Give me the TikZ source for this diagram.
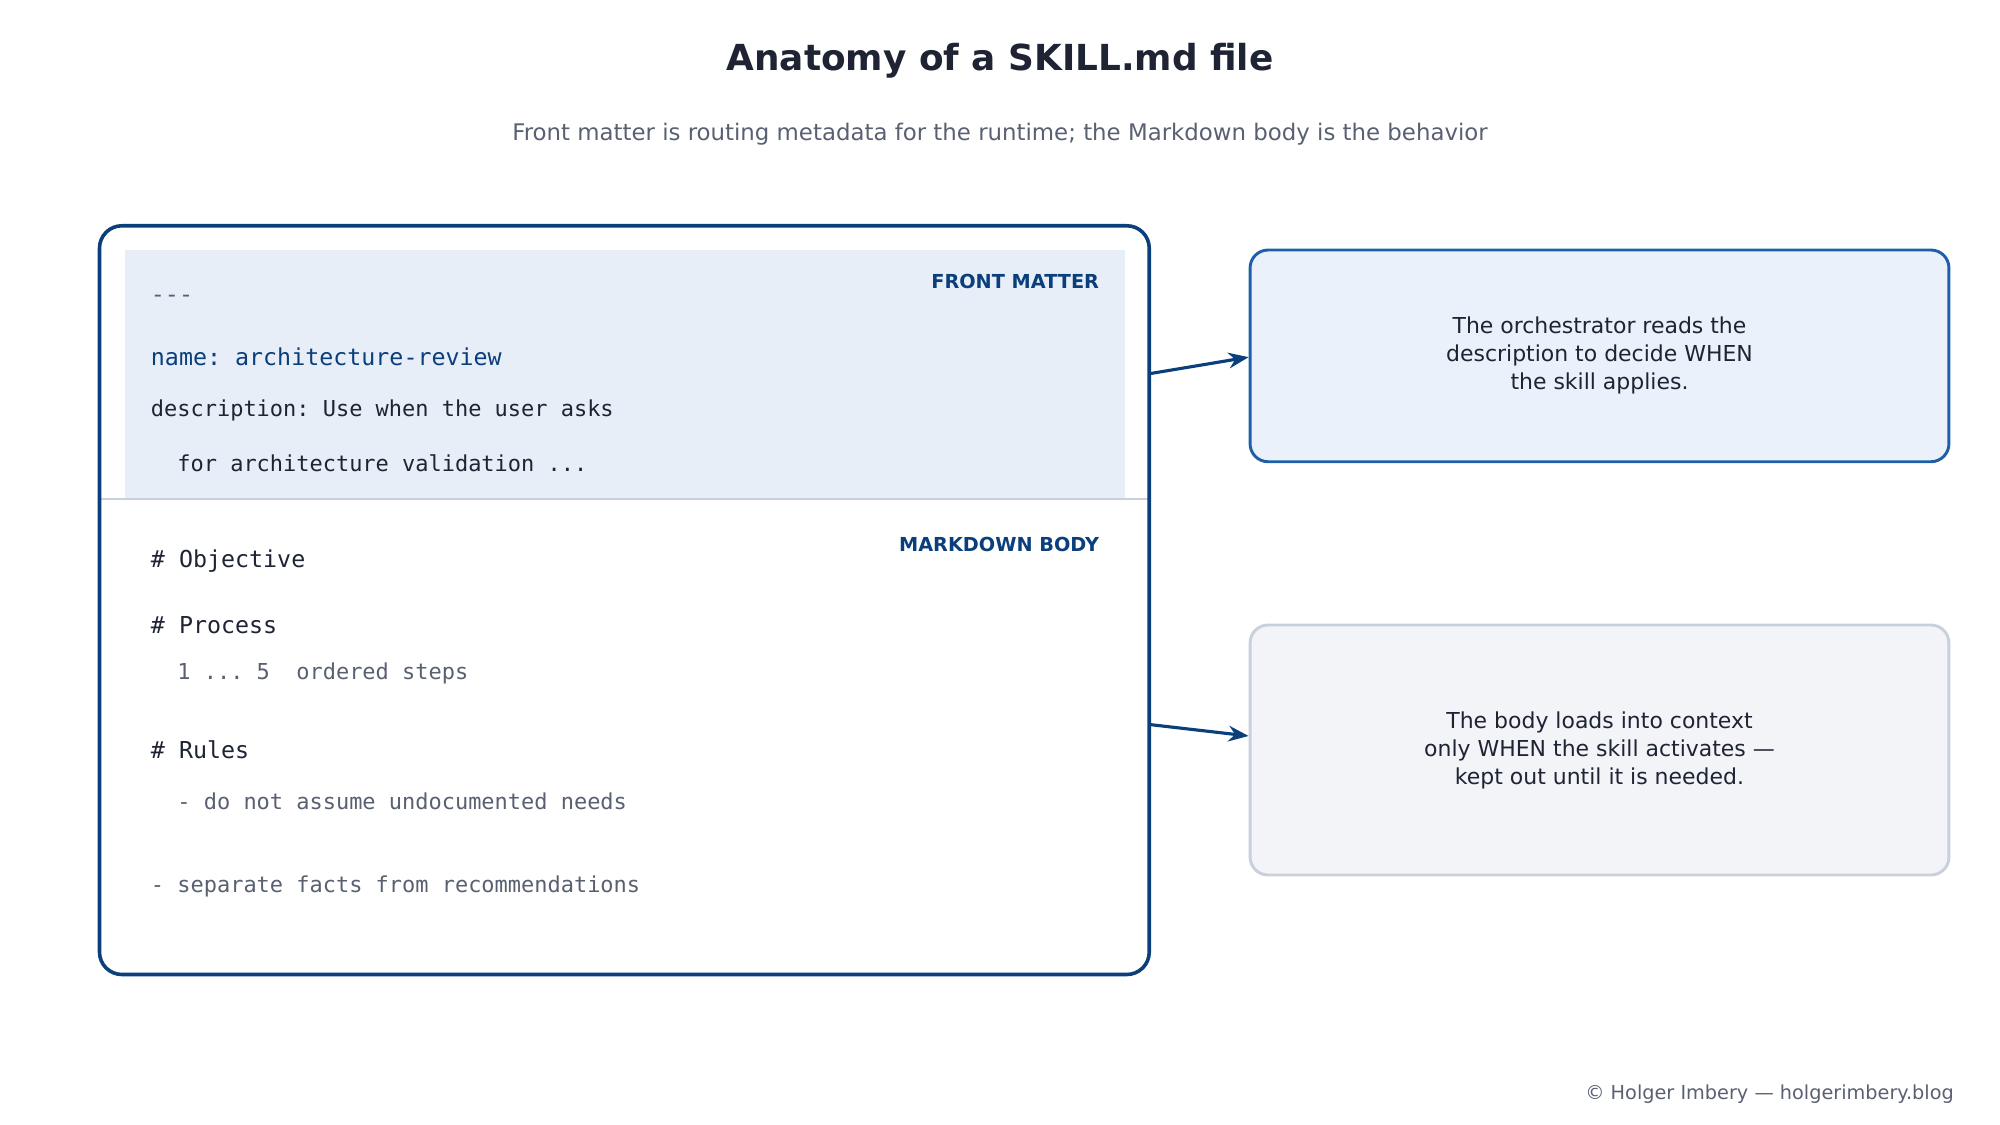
\documentclass[tikz,border=0pt]{standalone}
\usepackage{fontspec}
\setmainfont{DejaVu Sans}
\setmonofont{DejaVu Sans Mono}
\usetikzlibrary{positioning,arrows.meta}
\definecolor{navy}{HTML}{0B3F7C}
\definecolor{ink}{HTML}{1E2433}
\definecolor{muted}{HTML}{596072}
\definecolor{paleblue}{HTML}{E8EEF8}
\definecolor{boxblue}{HTML}{1F5FA8}
\definecolor{boxfill}{HTML}{EBF1FA}
\definecolor{greyfill}{HTML}{F3F4F8}
\definecolor{greyline}{HTML}{C8D0DD}
\tikzset{
    code/.style={anchor=west, inner sep=0pt, font=\ttfamily\fontsize{10.4}{12}\selectfont, text=ink},
    subcode/.style={code, font=\ttfamily\fontsize{9.8}{12}\selectfont, text=muted},
    tag/.style={anchor=east, inner sep=0pt, font=\bfseries\fontsize{8.6}{10}\selectfont, text=navy},
    note/.style={align=center, font=\fontsize{9.8}{12.5}\selectfont, text=ink},
    link/.style={-{Stealth[length=9pt,width=7pt]}, navy, line width=1.4pt}
}
\begin{document}
\begin{tikzpicture}[x=0.02cm, y=-0.02cm]
    \useasboundingbox (0,0) rectangle (1568,882);
    % Title
    \node[font=\bfseries\fontsize{16}{19}\selectfont, text=ink] (title) at (784,48) {Anatomy of a SKILL.md file};
    \node[font=\fontsize{10.2}{12}\selectfont, text=muted] (subtitle) at (784,105)
        {Front matter is routing metadata for the runtime; the Markdown body is the behavior};

    % Skill file
    \fill[paleblue] (98,196) rectangle (882,391);
    \draw[greyline, line width=1pt] (78,391) -- (901,391);
    \draw[navy, line width=1.6pt, rounded corners=10pt] (78,177) rectangle (901,764);
    \node[tag] (fmtag) at (862,221) {FRONT MATTER};
    \node[tag] (mdtag) at (862,427) {MARKDOWN BODY};
    \node[code, text=muted] (dashes) at (118,234) {---};
    \node[code, text=navy] (name) at (118,280) {name: architecture-review};
    \node[code, font=\ttfamily\fontsize{9.8}{12}\selectfont] (desc) at (118,322) {description: Use when the user asks};
    \node[code, font=\ttfamily\fontsize{9.8}{12}\selectfont] (desc2) at (118,363) {\ \ for architecture validation ...};
    \node[code] (objective) at (118,440) {\# Objective};
    \node[code] (process) at (118,490) {\# Process};
    \node[subcode] (steps) at (118,528) {\ \ 1 ... 5\ \ ordered steps};
    \node[code] (rules) at (118,588) {\# Rules};
    \node[subcode] (rule1) at (118,628) {\ \ - do not assume undocumented needs};
    \node[subcode] (rule2) at (118,695) {- separate facts from recommendations};

    % Explanations
    \node[draw=boxblue, fill=boxfill, line width=1.3pt, rounded corners=8pt,
          minimum width=10.96cm, minimum height=3.32cm, note] (when) at (1254,279)
        {The orchestrator reads the\\description to decide WHEN\\the skill applies.};
    \node[draw=greyline, fill=greyfill, line width=1.3pt, rounded corners=8pt,
          minimum width=10.96cm, minimum height=3.92cm, note] (load) at (1254,588)
        {The body loads into context\\only WHEN the skill activates —\\kept out until it is needed.};
    \coordinate (fmout) at (901,293);
    \coordinate (mdout) at (901,568);
    \draw[link] (fmout) -- (when.west |- 0,280);
    \draw[link] (mdout) -- (load.west |- 0,577);

    % Footer
    \node[anchor=east, font=\fontsize{8.6}{10}\selectfont, text=muted] (credit) at (1538,858)
        {© Holger Imbery — holgerimbery.blog};
\end{tikzpicture}
\end{document}
